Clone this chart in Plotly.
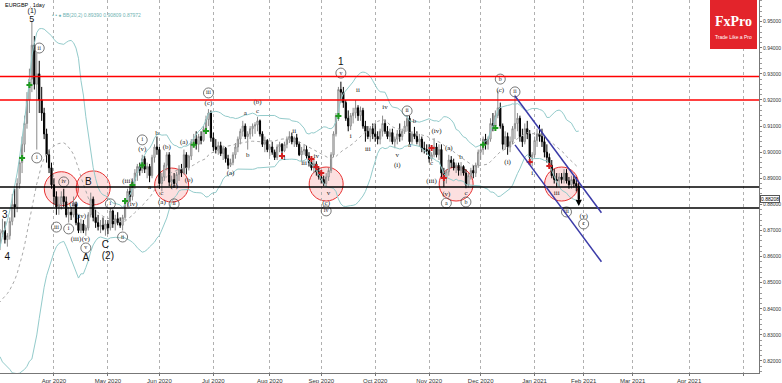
import pandas as pd
import numpy as np
import plotly.graph_objects as go

# ---------------- data (EURGBP daily) ----------------
holidays = ["2020-12-25", "2021-01-01"]
dates = [d for d in pd.bdate_range("2020-02-03", "2021-01-28") if d.strftime("%Y-%m-%d") not in holidays]

opens = [
    # Feb 2020
    .8440, .8480, .8475, .8470, .8460, .8455, .8440, .8400, .8360, .8330, .8320, .8315, .8310, .8300, .8350, .8370, .8390, .8420, .8460, .8580,
    # Mar
    .8650, .8690, .8700, .8665, .8680, .8735, .8800, .8790, .8880, .8960, .9030, .9110, .9200, .9280, .9410, .9260, .9300, .9200, .9150, .9070, .8990, .8940,
    # Apr
    .8875, .8830, .8790, .8800, .8830, .8810, .8760, .8770, .8760, .8800, .8730, .8700, .8725, .8700, .8710, .8760, .8820, .8750, .8730, .8715, .8720, .8705,
    # May
    .8725, .8710, .8775, .8725, .8745, .8730, .8720, .8750, .8805, .8850, .8830, .8890, .8920, .8945, .8930, .8975, .8935, .8945, .8910, .8980, .9020,
    # Jun
    .9010, .8880, .8905, .8950, .8990, .8885, .8895, .8880, .8915, .8935, .8920, .8990, .8940, .8985, .9040, .9050, .9030, .9060, .9045, .9090, .9125, .9150,
    # Jul
    .9055, .9020, .9010, .9025, .8995, .9015, .8975, .8950, .8960, .8990, .9020, .9050, .9080, .9100, .9060, .9070, .9090, .9100, .9105, .9120, .9070, .9030, .9045,
    # Aug
    .9010, .9020, .9000, .8980, .9020, .9030, .9005, .9030, .9050, .9060, .9040, .9055, .9030, .8990, .9005, .9010, .8985, .8960, .8940, .8955, .8925,
    # Sep
    .8905, .8895, .8880, .8905, .8930, .8990, .9070, .9140, .9240, .9230, .9190, .9130, .9100, .9140, .9150, .9170, .9140, .9160, .9100, .9080, .9060, .9090,
    # Oct
    .9070, .9060, .9050, .9080, .9110, .9080, .9060, .9075, .9040, .9050, .9070, .9060, .9080, .9100, .9130, .9040, .9070, .9060, .9040, .9050, .9015, .9010,
    # Nov
    .9005, .8975, .8990, .9020, .8990, .9010, .8920, .8900, .8925, .8970, .8960, .8940, .8950, .8930, .8945, .8920, .8875, .8910, .8930, .8920, .8950,
    # Dec
    .9000, .9010, .9050, .9030, .9050, .9110, .9100, .9140, .9170, .9100, .9030, .9060, .9020, .9040, .9090, .9110, .9130, .9060, .9040, .9090, .9070, .8980,
    # Jan 2021
    .8990, .9045, .9070, .9060, .9040, .9000, .8980, .8950, .8910, .8895, .8890, .8905, .8895, .8920, .8890, .8875, .8895, .8880, .8870,
]
highs = [
    .8500, .8500, .8490, .8490, .8470, .8475, .8450, .8410, .8370, .8345, .8330, .8330, .8330, .8360, .8390, .8410, .8440, .8480, .8600, .8650,
    .8705, .8745, .8735, .8690, .8750, .8840, .8860, .8900, .8985, .9060, .9140, .9230, .9320, .9500, .9445, .9380, .9350, .9250, .9170, .9090, .9010, .8960,
    .8900, .8850, .8830, .8850, .8860, .8830, .8790, .8790, .8830, .8810, .8760, .8745, .8740, .8720, .8770, .8845, .8830, .8780, .8760, .8740, .8750, .8740,
    .8740, .8785, .8780, .8760, .8770, .8750, .8760, .8820, .8860, .8870, .8900, .8935, .8955, .8960, .8990, .8985, .8960, .8955, .8990, .9030, .9060,
    .9020, .8920, .8960, .9000, .9000, .8910, .8920, .8925, .8950, .8955, .9010, .9000, .8990, .9050, .9070, .9080, .9070, .9080, .9100, .9140, .9165, .9160,
    .9075, .9050, .9040, .9040, .9025, .9020, .8990, .8975, .9000, .9035, .9060, .9090, .9120, .9110, .9080, .9100, .9110, .9115, .9135, .9125, .9080, .9060, .9050,
    .9030, .9040, .9010, .9030, .9040, .9035, .9040, .9060, .9080, .9075, .9060, .9070, .9040, .9020, .9030, .9025, .9000, .8975, .8975, .8965, .8940,
    .8930, .8910, .8920, .8940, .9000, .9080, .9150, .9250, .9270, .9250, .9200, .9160, .9150, .9170, .9200, .9180, .9175, .9170, .9120, .9100, .9100, .9110,
    .9110, .9080, .9090, .9140, .9125, .9100, .9090, .9090, .9060, .9085, .9110, .9090, .9120, .9142, .9140, .9080, .9097, .9080, .9070, .9060, .9040, .9030,
    .9030, .9000, .9054, .9035, .9030, .9030, .8940, .8935, .8990, .8985, .8975, .8960, .8960, .8962, .8950, .8935, .8920, .8940, .8950, .8960, .9010,
    .9030, .9060, .9070, .9060, .9130, .9150, .9160, .9235, .9190, .9110, .9080, .9075, .9060, .9100, .9220, .9150, .9140, .9090, .9110, .9120, .9085, .9000,
    .9060, .9090, .9105, .9090, .9060, .9030, .8995, .8970, .8935, .8920, .8920, .8920, .8935, .8935, .8905, .8910, .8910, .8905, .8885,
]
lows = [
    .8430, .8460, .8450, .8440, .8440, .8430, .8390, .8350, .8320, .8310, .8300, .8290, .8280, .8290, .8340, .8360, .8380, .8410, .8450, .8560,
    .8625, .8675, .8650, .8638, .8665, .8720, .8750, .8770, .8860, .8920, .9000, .9090, .9150, .9230, .9240, .9010, .9150, .9120, .9050, .8960, .8920, .8860,
    .8800, .8760, .8760, .8780, .8790, .8750, .8730, .8740, .8750, .8720, .8690, .8690, .8690, .8680, .8700, .8750, .8735, .8710, .8700, .8690, .8700, .8680,
    .8686, .8700, .8710, .8700, .8720, .8710, .8700, .8740, .8790, .8810, .8815, .8860, .8890, .8910, .8920, .8920, .8900, .8885, .8900, .8960, .8990,
    .8860, .8850, .8890, .8930, .8870, .8860, .8865, .8870, .8890, .8905, .8915, .8915, .8930, .8970, .9020, .9010, .9000, .9030, .9040, .9070, .9100, .9040,
    .9005, .8995, .8990, .8985, .8970, .8960, .8935, .8943, .8950, .8975, .9000, .9030, .9060, .9050, .9010, .9050, .9060, .9070, .9080, .9060, .9020, .9000, .9000,
    .8985, .8990, .8970, .8970, .9000, .8995, .9000, .9015, .9035, .9030, .9020, .9020, .8985, .8965, .8990, .8975, .8945, .8930, .8920, .8910, .8895,
    .8880, .8870, .8866, .8890, .8920, .8980, .9060, .9120, .9190, .9170, .9120, .9080, .9085, .9110, .9130, .9120, .9120, .9090, .9040, .9050, .9040, .9050,
    .9040, .9030, .9030, .9060, .9070, .9050, .9040, .9030, .9015, .9030, .9040, .9045, .9070, .9080, .9030, .9030, .9050, .9030, .9020, .9000, .8995, .8990,
    .8960, .8965, .8980, .8980, .8970, .8900, .8866, .8880, .8910, .8940, .8930, .8920, .8910, .8910, .8910, .8862, .8865, .8895, .8900, .8905, .8940,
    .8970, .8990, .9010, .9010, .9040, .9080, .9090, .9130, .9090, .9010, .9010, .8990, .9000, .9030, .9050, .9080, .9040, .9020, .9030, .9050, .8960, .8945,
    .8980, .9020, .9040, .9020, .8980, .8960, .8940, .8900, .8880, .8865, .8870, .8880, .8880, .8880, .8860, .8860, .8865, .8850, .8800,
]
closes = [
    .8480, .8475, .8470, .8460, .8455, .8440, .8400, .8360, .8330, .8320, .8315, .8310, .8300, .8350, .8370, .8390, .8420, .8460, .8580, .8630,
    .8690, .8700, .8665, .8680, .8735, .8800, .8790, .8880, .8960, .9030, .9110, .9200, .9280, .9410, .9260, .9300, .9200, .9150, .9070, .8990, .8940, .8875,
    .8830, .8790, .8800, .8830, .8810, .8760, .8770, .8760, .8800, .8730, .8700, .8725, .8700, .8710, .8760, .8820, .8750, .8730, .8715, .8720, .8705, .8725,
    .8710, .8775, .8725, .8745, .8730, .8720, .8750, .8805, .8850, .8830, .8890, .8920, .8945, .8930, .8975, .8935, .8945, .8910, .8980, .9020, .9010,
    .8880, .8905, .8950, .8990, .8885, .8895, .8880, .8915, .8935, .8920, .8990, .8940, .8985, .9040, .9050, .9030, .9060, .9045, .9090, .9125, .9150, .9055,
    .9020, .9010, .9025, .8995, .9015, .8975, .8950, .8960, .8990, .9020, .9050, .9080, .9100, .9060, .9070, .9090, .9100, .9105, .9120, .9070, .9030, .9045, .9010,
    .9020, .9000, .8980, .9020, .9030, .9005, .9030, .9050, .9060, .9040, .9055, .9030, .8990, .9005, .9010, .8985, .8960, .8940, .8955, .8925, .8905,
    .8895, .8880, .8905, .8930, .8990, .9070, .9140, .9240, .9230, .9190, .9130, .9100, .9140, .9150, .9170, .9140, .9160, .9100, .9080, .9060, .9090, .9070,
    .9060, .9050, .9080, .9110, .9080, .9060, .9075, .9040, .9050, .9070, .9060, .9080, .9100, .9130, .9040, .9070, .9060, .9040, .9050, .9015, .9010, .9005,
    .8975, .8990, .9020, .8990, .9010, .8920, .8900, .8925, .8970, .8960, .8940, .8950, .8930, .8945, .8920, .8875, .8910, .8930, .8920, .8950, .9000,
    .9010, .9050, .9030, .9050, .9110, .9100, .9140, .9170, .9100, .9030, .9060, .9020, .9040, .9090, .9110, .9130, .9060, .9040, .9090, .9070, .8980, .8990,
    .9045, .9070, .9060, .9040, .9000, .8980, .8950, .8910, .8895, .8890, .8905, .8895, .8920, .8890, .8875, .8895, .8880, .8870, .8821,
]

for name, arr in [("opens", opens), ("highs", highs), ("lows", lows), ("closes", closes)]:
    if len(arr) != len(dates):
        raise SystemExit(f"{name} has {len(arr)} values, dates has {len(dates)}")

# month ticks (first trading day)
tick_days = ["2020-04-01", "2020-05-01", "2020-06-01", "2020-07-01", "2020-08-03", "2020-09-01",
             "2020-10-01", "2020-11-02", "2020-12-01", "2021-01-04", "2021-02-01", "2021-03-01",
             "2021-04-01", "2021-05-03"]
tick_labels = ["Apr 2020", "May 2020", "Jun 2020", "Jul 2020", "Aug 2020", "Sep 2020", "Oct 2020",
               "Nov 2020", "Dec 2020", "Jan 2021", "Feb 2021", "Mar 2021", "Apr 2021", ""]

# levels
resistance_levels = [0.9290, 0.9200]
support_levels = [0.8867, 0.8786]
last_price = 0.88208

# down channel
channel_dates = ["2020-12-21 12:00", "2021-02-10 18:00"]
channel_upper = [0.9215, 0.8768]
channel_lower = [0.9028, 0.8580]

# highlighted zones (red circles)
circle_dates = ["2020-04-06", "2020-04-23", "2020-06-08", "2020-09-03", "2020-11-17", "2021-01-19"]
circle_prices = [0.8860, 0.8863, 0.8874, 0.8878, 0.8878, 0.8878]

# signal markers
buy_dates = ["2020-03-13", "2020-03-18", "2020-05-12", "2020-05-15", "2020-05-21", "2020-06-19",
             "2020-06-26", "2020-09-10", "2020-12-02", "2020-12-09"]
buy_prices = [0.8978, 0.9257, 0.8813, 0.8874, 0.8950, 0.9028, 0.9081, 0.9139, 0.9028, 0.9093]
sell_dates = ["2020-08-10", "2020-08-26", "2020-08-28", "2020-09-01", "2020-11-03", "2020-11-10",
              "2020-12-30", "2021-01-12"]
sell_prices = [0.8985, 0.8974, 0.8943, 0.8920, 0.9016, 0.8901, 0.8962, 0.8947]

# wave labels
big_text = ["(1)", "5", "3", "4", "A", "B", "C", "(2)", "1"]
big_dates = ["2020-03-19", "2020-03-19", "2020-03-04", "2020-03-05", "2020-04-20", "2020-04-21",
             "2020-04-30", "2020-05-01", "2020-09-11"]
big_prices = [0.9539, 0.9507, 0.8759, 0.8598, 0.8591, 0.8882, 0.8644, 0.8602, 0.9342]
big_sizes = [7, 9, 10, 10, 10, 10, 10, 10, 10]

circ_text = ["ii", "i", "iv", "iii", "i", "v", "i", "ii", "i", "ii", "iii", "iv", "v", "ii",
             "a", "b", "b", "ii", "iii", "c"]
circ_dates = ["2020-03-24", "2020-03-23", "2020-04-07", "2020-04-02", "2020-04-09", "2020-04-20",
              "2020-05-04", "2020-05-11", "2020-05-21", "2020-06-09", "2020-06-29", "2020-09-03",
              "2020-09-11", "2020-10-20", "2020-11-11", "2020-11-23", "2020-12-11", "2020-12-21",
              "2021-01-21", "2021-02-01"]
circ_prices = [0.9399, 0.8978, 0.8886, 0.8713, 0.8706, 0.8633, 0.8802, 0.8675, 0.9047, 0.8802,
               0.9227, 0.8775, 0.9303, 0.9158, 0.8805, 0.8809, 0.9280, 0.9231, 0.8771, 0.8725]

plain_text = ["(ii)", "(iii)", "(iv)", "(v)", "(iii)", "(iv)", "(v)", "a", "b", "(b)", "c", "(a)",
              "(c)", "(a)", "(b)", "(c)", "(a)", "a", "b", "c", "(b)", "i", "ii", "iii", "iv", "v",
              "(c)", "i", "ii", "iii", "iv", "v", "(i)", "a", "b", "(iv)", "c", "(iii)", "(v)",
              "(a)", "b", "c", "(c)", "(i)", "i", "iii", "(v)"]
plain_dates = ["2020-04-13", "2020-04-14", "2020-04-16", "2020-04-20", "2020-05-13", "2020-05-15",
               "2020-05-21", "2020-05-26", "2020-05-29", "2020-06-04", "2020-06-02", "2020-06-02",
               "2020-06-09", "2020-06-15", "2020-06-17", "2020-06-29", "2020-07-10", "2020-07-20",
               "2020-07-21", "2020-07-27", "2020-07-27", "2020-08-11", "2020-08-17", "2020-08-21",
               "2020-08-28", "2020-09-04", "2020-09-03", "2020-09-17", "2020-09-22", "2020-09-28",
               "2020-10-07", "2020-10-14", "2020-10-14", "2020-10-21", "2020-10-23", "2020-11-05",
               "2020-11-03", "2020-11-03", "2020-11-11", "2020-11-12", "2020-11-19", "2020-11-23",
               "2020-12-11", "2020-12-16", "2020-12-31", "2021-01-15", "2021-02-01"]
plain_prices = [0.8802, 0.8667, 0.8756, 0.8667, 0.8890, 0.8802, 0.9012, 0.8865, 0.9074, 0.9020,
                0.8844, 0.8809, 0.8870, 0.9039, 0.8893, 0.9189, 0.8920, 0.9150, 0.8989, 0.9158,
                0.9192, 0.8978, 0.9081, 0.8959, 0.8985, 0.8844, 0.8805, 0.9062, 0.9238, 0.9012,
                0.9173, 0.8989, 0.8951, 0.9028, 0.9120, 0.9081, 0.8959, 0.8890, 0.8840, 0.9016,
                0.8982, 0.8844, 0.9238, 0.8962, 0.8920, 0.8844, 0.8756]

# ---------------- build figure ----------------
W, H = 782, 383
MR, MB = 23, 10
PW, PH = W - MR, H - MB      # plot area size in pixels

noon = pd.Timedelta(hours=12)
x_dates = [d + noon for d in dates]
def at_noon(lst):
    return [pd.Timestamp(s) + noon for s in lst]

close_s = pd.Series(closes)
bb_mid = close_s.rolling(20).mean()
bb_std = close_s.rolling(20).std(ddof=0)
bb_up = bb_mid + 2 * bb_std
bb_lo = bb_mid - 2 * bb_std

teal = "#93cbcb"
fig = go.Figure()
fig.add_trace(go.Scatter(x=x_dates, y=bb_up, mode="lines", line=dict(color=teal, width=1),
                         hoverinfo="skip", showlegend=False))
fig.add_trace(go.Scatter(x=x_dates, y=bb_lo, mode="lines", line=dict(color=teal, width=1),
                         hoverinfo="skip", showlegend=False))
fig.add_trace(go.Scatter(x=x_dates, y=bb_mid, mode="lines", line=dict(color="#a8a8a8", width=1, dash="dot"),
                         hoverinfo="skip", showlegend=False))

fig.add_trace(go.Candlestick(
    x=x_dates, open=opens, high=highs, low=lows, close=closes,
    increasing=dict(line=dict(color="#8a8a8a", width=1), fillcolor="#ffffff"),
    decreasing=dict(line=dict(color="#000000", width=1), fillcolor="#000000"),
    whiskerwidth=0, hoverinfo="skip", showlegend=False))

fig.add_trace(go.Scatter(x=at_noon(buy_dates), y=buy_prices, mode="markers",
                         marker=dict(symbol="cross", size=5, color="#1e9a1e"),
                         hoverinfo="skip", showlegend=False))
fig.add_trace(go.Scatter(x=at_noon(sell_dates), y=sell_prices, mode="markers",
                         marker=dict(symbol="cross", size=5, color="#d42020"),
                         hoverinfo="skip", showlegend=False))

# wave labels
fig.add_trace(go.Scatter(x=at_noon(plain_dates), y=plain_prices, mode="text", text=plain_text,
                         textposition="middle center",
                         textfont=dict(family="Liberation Serif", size=7, color="#222222"),
                         hoverinfo="skip", showlegend=False))
fig.add_trace(go.Scatter(x=at_noon(circ_dates), y=circ_prices, mode="markers+text", text=circ_text,
                         textposition="middle center",
                         marker=dict(symbol="circle-open", size=10, color="#555555", line=dict(width=0.8)),
                         textfont=dict(family="Liberation Serif", size=6, color="#222222"),
                         hoverinfo="skip", showlegend=False))
fig.add_trace(go.Scatter(x=at_noon(big_dates), y=big_prices, mode="text", text=big_text,
                         textposition="middle center",
                         textfont=dict(family="Liberation Sans", size=big_sizes, color="#111111"),
                         hoverinfo="skip", showlegend=False))

shapes = []
for p in resistance_levels:
    shapes.append(dict(type="line", xref="paper", yref="y", x0=0, x1=1, y0=p, y1=p,
                       line=dict(color="#ff0000", width=1.5)))
for p in support_levels:
    shapes.append(dict(type="line", xref="paper", yref="y", x0=0, x1=1, y0=p, y1=p,
                       line=dict(color="#000000", width=1.5)))
for chan in (channel_upper, channel_lower):
    shapes.append(dict(type="line", xref="x", yref="y", x0=channel_dates[0], x1=channel_dates[1],
                       y0=chan[0], y1=chan[1], line=dict(color="#3b3ba8", width=1.5)))
for d, p in zip(at_noon(circle_dates), circle_prices):
    shapes.append(dict(type="circle", xref="x", yref="y", xsizemode="pixel", ysizemode="pixel",
                       xanchor=d, yanchor=p, x0=-17, x1=17, y0=-17, y1=17,
                       fillcolor="rgba(240,80,80,0.18)", line=dict(color="#e83030", width=1),
                       layer="below"))
# FxPro logo box
shapes.append(dict(type="rect", xref="paper", yref="paper", x0=710 / PW, x1=757 / PW,
                   y0=1 - 49 / PH, y1=1, fillcolor="#e3242b", line=dict(width=0), layer="above"))

annotations = [
    dict(xref="paper", yref="paper", x=0.004, y=1.0, xanchor="left", yanchor="top",
         text="EURGBP , 1day", showarrow=False,
         font=dict(family="Liberation Sans", size=5.5, color="#000000")),
    dict(xref="paper", yref="paper", x=50 / PW, y=1 - 10 / PH, xanchor="left", yanchor="top",
         text="• • ● BB(20,2) %.5f %.5f %.5f" % (bb_mid.iloc[-1], bb_up.iloc[-1], bb_lo.iloc[-1]),
         showarrow=False, font=dict(family="Liberation Sans", size=5, color="#6fb3b3")),
    dict(xref="paper", yref="paper", x=733.5 / PW, y=1 - 21 / PH, xanchor="center", yanchor="middle",
         text="<b>FxPro</b>", showarrow=False,
         font=dict(family="Liberation Serif", size=14, color="#ffffff")),
    dict(xref="paper", yref="paper", x=733.5 / PW, y=1 - 37 / PH, xanchor="center", yanchor="middle",
         text="Trade Like a Pro", showarrow=False,
         font=dict(family="Liberation Sans", size=5, color="#ffffff")),
    dict(xref="paper", yref="y", x=1, y=last_price, xanchor="left", xshift=1,
         text="%.5f" % last_price, showarrow=False, bgcolor="#ffffff",
         bordercolor="#555555", borderwidth=1, borderpad=0,
         font=dict(family="Liberation Sans", size=5, color="#000000")),
    dict(xref="x", yref="y", x=x_dates[-1], y=lows[-1] - 0.0006, ax=0, ay=-12,
         showarrow=True, arrowhead=2, arrowsize=0.9, arrowwidth=1.4, arrowcolor="#000000", text=""),
]

fig.update_layout(
    width=W, height=H,
    margin=dict(l=0, r=MR, t=0, b=MB, autoexpand=False),
    paper_bgcolor="#ffffff", plot_bgcolor="#ffffff",
    shapes=shapes, annotations=annotations, showlegend=False,
    xaxis=dict(
        type="date", automargin=False,
        range=[pd.Timestamp("2020-03-02 12:00"), pd.Timestamp("2021-05-12 00:00")],
        rangebreaks=[dict(bounds=["sat", "mon"]), dict(values=holidays)],
        rangeslider=dict(visible=False),
        tickvals=at_noon(tick_days), ticktext=tick_labels,
        showgrid=True, gridcolor="#b0b0b0", griddash="dot", gridwidth=1,
        ticks="outside", ticklen=2, tickcolor="#777777",
        tickfont=dict(family="Liberation Sans", size=6, color="#333333"),
        showline=True, linecolor="#777777", linewidth=1, zeroline=False,
    ),
    yaxis=dict(
        side="right", automargin=False, range=[0.8154, 0.9583],
        tick0=0.82, dtick=0.01, tickformat=".5f",
        showgrid=False, zeroline=False,
        ticks="outside", ticklen=2, tickcolor="#777777",
        minor=dict(ticks="outside", ticklen=2, dtick=0.002, tickcolor="#999999", showgrid=False),
        tickfont=dict(family="Liberation Sans", size=5, color="#333333"),
        showline=True, linecolor="#777777", linewidth=1,
    ),
)

fig.write_html("out.html")
